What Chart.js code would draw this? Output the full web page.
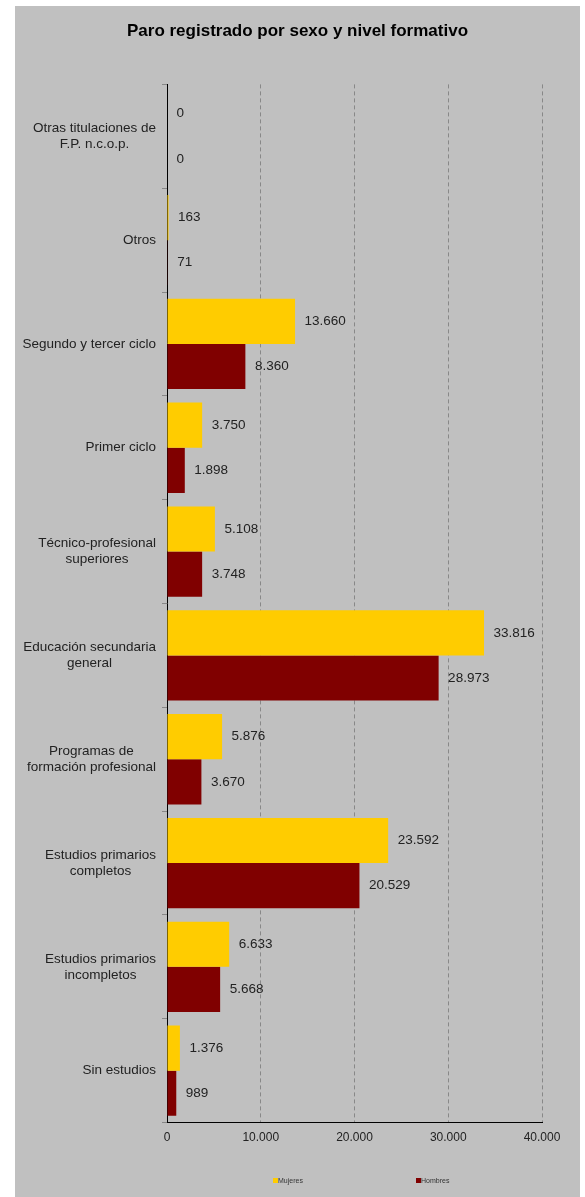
<!DOCTYPE html>
<html>
<head>
<meta charset="utf-8">
<title>Paro registrado por sexo y nivel formativo</title>
<script src="https://cdn.jsdelivr.net/npm/chart.js@4.4.0/dist/chart.umd.min.js"></script>
<style>
	body { margin: 0; background: #fff; }
	#box { position: absolute; left: 15px; top: 6px; width: 565px; height: 1191px; background: #c0c0c0; }
	.leg { position: absolute; font: 7px "Liberation Sans", Arial, sans-serif; color: #333; line-height: 8px; white-space: nowrap; }
	.leg i { display: inline-block; width: 5px; height: 5px; vertical-align: 0px; }
</style>
</head>
<body>
<div id="box">
	<canvas id="chart"></canvas>
	<div class="leg" style="left:258px;top:1171px"><i style="background:#ffcc00"></i>Mujeres</div>
	<div class="leg" style="left:401px;top:1171px"><i style="background:#800000"></i>Hombres</div>
</div>

<script>
// datos
var categorias = [
	['Otras titulaciones de', 'F.P. n.c.o.p.'],
	'Otros',
	'Segundo y tercer ciclo',
	'Primer ciclo',
	['Técnico-profesional', 'superiores'],
	['Educación secundaria', 'general'],
	['Programas de', 'formación profesional'],
	['Estudios primarios', 'completos'],
	['Estudios primarios', 'incompletos'],
	'Sin estudios'
];
var mujeres = [0, 163, 13660, 3750, 5108, 33816, 5876, 23592, 6633, 1376];
var hombres = [0, 71, 8360, 1898, 3748, 28973, 3670, 20529, 5668, 989];
var ejeX = [0, 10000, 20000, 30000, 40000];

var FONT = '"Liberation Sans", Arial, sans-serif';

function fmt(v) {
	return String(v).replace(/\B(?=(\d{3})+(?!\d))/g, '.');
}

// etiquetas de categoria (lineas centradas, bloque alineado a la derecha)
var yLabels = {
	id: 'yLabels',
	afterDraw: function(chart) {
		var y = chart.scales.y, ctx = chart.ctx;
		ctx.save();
		ctx.font = '13.5px ' + FONT;
		ctx.fillStyle = '#222';
		ctx.textBaseline = 'middle';
		ctx.textAlign = 'center';
		var right = y.right - 11;
		categorias.forEach(function(lab, i) {
			var lines = Array.isArray(lab) ? lab : [lab];
			var w = Math.max.apply(null, lines.map(function(l) { return ctx.measureText(l).width; }));
			var cy = y.getPixelForValue(i);
			lines.forEach(function(l, k) {
				ctx.fillText(l, right - w / 2, cy + (k - (lines.length - 1) / 2) * 16);
			});
		});
		ctx.restore();
	}
};

// valores al final de cada barra
var valueLabels = {
	id: 'valueLabels',
	afterDatasetsDraw: function(chart) {
		var ctx = chart.ctx;
		ctx.save();
		ctx.font = '13.5px ' + FONT;
		ctx.fillStyle = '#222';
		ctx.textBaseline = 'middle';
		ctx.textAlign = 'left';
		chart.data.datasets.forEach(function(ds, di) {
			chart.getDatasetMeta(di).data.forEach(function(bar, i) {
				ctx.fillText(fmt(ds.data[i]), bar.x + 9.5, bar.y);
			});
		});
		ctx.restore();
	}
};

new Chart(document.getElementById('chart'), {
	type: 'bar',
	data: {
		labels: categorias,
		datasets: [
			{ label: 'Mujeres', data: mujeres, backgroundColor: '#ffcc00' },
			{ label: 'Hombres', data: hombres, backgroundColor: '#800000' }
		]
	},
	options: {
		indexAxis: 'y',
		responsive: true,
		maintainAspectRatio: false,
		animation: false,
		categoryPercentage: 0.87,
		barPercentage: 1,
		layout: { padding: { left: 0, right: 0, top: 0, bottom: 44 } },
		plugins: {
			legend: { display: false },
			tooltip: { enabled: false },
			title: {
				display: true,
				text: 'Paro registrado por sexo y nivel formativo',
				color: '#000',
				font: { family: FONT, size: 17, weight: 'bold' },
				padding: { top: 15, bottom: 43 }
			}
		},
		scales: {
			x: {
				min: 0,
				max: 40000,
				afterBuildTicks: function(scale) {
					scale.ticks = ejeX.map(function(v) { return { value: v }; });
				},
				ticks: {
					color: '#222',
					padding: 8,
					font: { family: FONT, size: 12 },
					callback: function(v) { return fmt(v); }
				},
				grid: {
					drawTicks: false,
					color: function(c) { return c.tick && c.tick.value === 0 ? 'rgba(0,0,0,0)' : '#888'; }
				},
				border: { display: true, color: '#000', width: 1, dash: [4, 3] }
			},
			y: {
				offset: true,
				ticks: { display: false },
				grid: { offset: true, drawOnChartArea: false, drawTicks: true, tickLength: 5, color: '#888' },
				border: { display: true, color: '#000', width: 1 },
				afterFit: function(scale) { scale.width = 152; }
			},
			margen: {
				type: 'linear',
				position: 'right',
				ticks: { display: false },
				grid: { display: false },
				border: { display: false },
				afterFit: function(scale) { scale.width = 38; }
			}
		}
	},
	plugins: [yLabels, valueLabels]
});
</script>
</body>
</html>
